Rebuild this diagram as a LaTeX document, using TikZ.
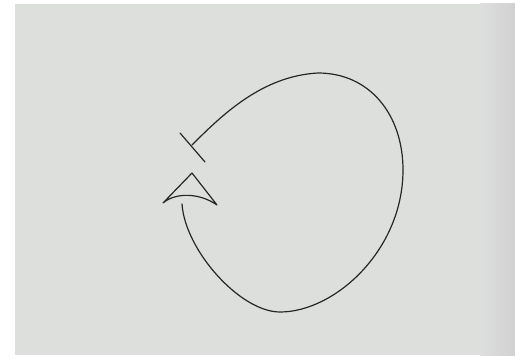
\documentclass[tikz,border=0pt]{standalone}
\begin{document}
\begin{tikzpicture}[x=1pt,y=-1pt,
  ink/.style={draw=black!85,line width=1.2pt,line cap=round,line join=round}]
\definecolor{paper}{RGB}{221,223,221}
\definecolor{edge}{RGB}{210,208,211}
\useasboundingbox (0,0) rectangle (515,361);
\fill[white] (0,0) rectangle (515,361);
\fill[paper] (15,4) rectangle (515,355);
\shade[left color=paper,right color=edge] (480,4) rectangle (515,355);
% bar end
\coordinate (b1) at (180,133);
\coordinate (b2) at (205,162);
\draw[ink] (b1) -- (b2);
% loop
\coordinate (s) at (192,145);
\coordinate (top) at (318,73);
\coordinate (rt) at (403,170);
\coordinate (bot) at (280,312);
\coordinate (e) at (182,204);
\draw[ink] (s) .. controls (222,115) and (262,76) .. (top)
  .. controls (370,73) and (403,115) .. (rt)
  .. controls (403,250) and (335,312) .. (bot)
  .. controls (240,312) and (185,250) .. (e);
% arrowhead
\coordinate (tip) at (192,173);
\coordinate (al) at (163,203);
\coordinate (ar) at (217,205);
\draw[ink] (al) -- (tip) -- (ar) .. controls (200,193) and (176,192) .. (al);
\end{tikzpicture}
\end{document}
